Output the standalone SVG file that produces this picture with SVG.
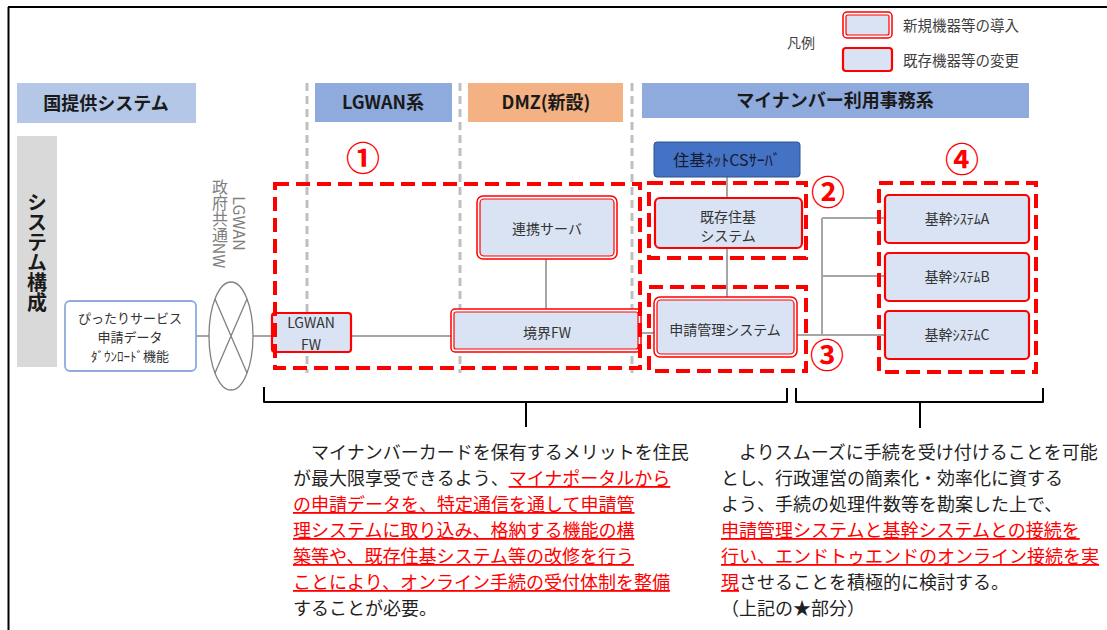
<svg xmlns="http://www.w3.org/2000/svg" width="1107" height="630" viewBox="0 0 1107 630">
<defs><style>
text{font-family:"Noto Sans CJK JP","Noto Sans",sans-serif;}
.hdr{font-size:18px;font-weight:700;fill:#1a1a1a;text-anchor:middle}
.nt{font-size:14px;fill:#333;text-anchor:middle}
.ln{stroke:#a6a6a6;stroke-width:2;fill:none}
.gd{stroke:#bfbfbf;stroke-width:3;stroke-dasharray:8 5;fill:none}
.rd{stroke:#ff0000;stroke-width:4;stroke-dasharray:14 7;fill:none}
.single{fill:#dae3f3;stroke:#ff0000;stroke-width:2.2}
.dbo{fill:#fff;stroke:#ff0000;stroke-width:1.5}
.dbi{fill:#dae3f3;stroke:#ff0000;stroke-width:1.2}
.num{font-size:34px;font-weight:700;fill:#ff0000;text-anchor:middle}
.body{font-size:18px;fill:#1f1f1f}
.red{fill:#ff0000;text-decoration:underline}
.br{stroke:#000;stroke-width:2;fill:none;stroke-linejoin:round}
.vt{writing-mode:vertical-rl}
</style></defs>
<rect width="1107" height="630" fill="#fff"/>
<path d="M8,7 H1107 M8.5,7 V630" stroke="#000" stroke-width="2" fill="none"/>

<g id="legend">
<text x="787" y="48" font-size="14" fill="#404040">凡例</text>
<rect class="dbo" x="843" y="12" width="49" height="26" rx="4"/>
<rect class="dbi" x="846" y="15" width="43" height="20" rx="2"/>
<text x="903" y="30.5" font-size="14.5" fill="#404040">新規機器等の導入</text>
<rect class="single" x="843" y="48" width="49" height="23" rx="3"/>
<text x="903" y="65.5" font-size="14.5" fill="#404040">既存機器等の変更</text>
</g>

<g id="zone-dividers">
<path class="gd" d="M307,83 V373 M460,83 V373 M632,83 V373"/>
</g>

<g id="header-kuni"><rect x="17" y="83" width="179" height="40" fill="#b4c7e7"/><text class="hdr" x="106" y="110">国提供システム</text></g>
<g id="header-lgwan"><rect x="315" y="83" width="137" height="39" fill="#8faadc"/><text class="hdr" x="383" y="109">LGWAN系</text></g>
<g id="header-dmz"><rect x="468" y="83" width="155" height="39" fill="#f4b183"/><text class="hdr" x="546" y="109">DMZ(新設)</text></g>
<g id="header-mynumber"><rect x="642" y="83" width="387" height="35" fill="#8faadc"/><text class="hdr" x="835" y="107">マイナンバー利用事務系</text></g>
<g id="header-system"><rect x="17" y="136" width="40" height="231" fill="#d9d9d9"/><text class="vt" x="37" y="252" font-size="20" font-weight="700" fill="#1a1a1a" text-anchor="middle">システム構成</text></g>

<g id="connectors">
<path class="ln" d="M196,336 H209 M253,336 H451 M641,333 H654 M797,335 H885 M822,218 V335 M822,218 H885 M822,276 H885 M546,259 V309 M727,177 V198 M727,248 V297"/>
</g>

<g id="pittari"><rect x="65" y="301" width="131" height="70" rx="5" fill="#fff" stroke="#8faadc" stroke-width="1.8"/>
<text x="130" y="323" font-size="13" fill="#333" text-anchor="middle">ぴったりサービス</text>
<text x="130" y="342" font-size="13" fill="#333" text-anchor="middle">申請データ</text>
<text x="130" y="361" font-size="13" fill="#333" text-anchor="middle">ﾀﾞｳﾝﾛｰﾄﾞ機能</text></g>

<g id="lgwan-nw">
<ellipse cx="231" cy="336" rx="22" ry="54" fill="#fff" stroke="#808080" stroke-width="1.3"/>
<path d="M215,299 L247,373 M247,299 L215,373" stroke="#808080" stroke-width="1.3"/>
<text class="vt" x="240" y="223.5" font-size="16" fill="#7f7f7f" text-anchor="middle">LGWAN</text>
<text class="vt" x="220" y="223.5" font-size="16" fill="#7f7f7f" text-anchor="middle">政府共通NW</text>
</g>

<g id="lgwan-fw"><rect class="single" x="272" y="313" width="79" height="39" rx="3"/>
<text class="nt" x="311" y="328">LGWAN</text><text class="nt" x="311" y="350">FW</text></g>

<g id="renkei"><rect class="dbo" x="477" y="196" width="140" height="63" rx="6"/><rect class="dbi" x="480" y="199" width="134" height="57" rx="4"/>
<text class="nt" x="547" y="234">連携サーバ</text></g>

<g id="kyokai-fw"><rect class="dbo" x="451" y="309" width="190" height="43" rx="4"/><rect class="dbi" x="454" y="312" width="184" height="37" rx="2"/>
<text class="nt" x="547" y="338">境界FW</text></g>

<g id="cs-server"><rect x="654" y="142" width="146" height="35" rx="3" fill="#4472c4" stroke="#2f528f" stroke-width="1"/>
<text x="727" y="165.5" font-size="16" fill="#141a2e" text-anchor="middle">住基ﾈｯﾄCSｻｰﾊﾞ</text></g>

<g id="kison-juki"><rect class="single" x="655" y="198" width="147" height="50" rx="5"/>
<text class="nt" x="728" y="222">既存住基</text><text class="nt" x="728" y="241">システム</text></g>

<g id="shinsei"><rect class="dbo" x="654" y="297" width="143" height="60" rx="6"/><rect class="dbi" x="657" y="300" width="137" height="54" rx="4"/>
<text class="nt" x="725" y="335">申請管理システム</text></g>

<g id="kikan-a"><rect class="single" x="885" y="195" width="144" height="48" rx="4"/><text class="nt" x="957" y="224">基幹ｼｽﾃﾑA</text></g>
<g id="kikan-b"><rect class="single" x="885" y="253" width="144" height="48" rx="4"/><text class="nt" x="957" y="282">基幹ｼｽﾃﾑB</text></g>
<g id="kikan-c"><rect class="single" x="885" y="311" width="144" height="48" rx="4"/><text class="nt" x="957" y="340">基幹ｼｽﾃﾑC</text></g>

<g id="scope-boxes">
<rect class="rd" x="275" y="184" width="365" height="184"/>
<rect class="rd" x="649" y="183" width="157" height="75"/>
<rect class="rd" x="649" y="287" width="157" height="84"/>
<rect class="rd" x="879" y="183" width="157" height="189"/>
<text class="num" x="363" y="171">①</text>
<text class="num" x="828" y="205">②</text>
<text class="num" x="827" y="368">③</text>
<text class="num" x="962" y="172">④</text>
</g>

<g id="brackets">
<path class="br" d="M264,387 V402 H787 V388 M526,402 V427"/>
<path class="br" d="M796,388 V402 H1043 V388 M920,402 V428"/>
</g>

<g id="text-left">
<text class="body" x="293" y="459">　マイナンバーカードを保有するメリットを住民</text>
<text class="body" x="293" y="485">が最大限享受できるよう、<tspan class="red">マイナポータルから</tspan></text>
<text class="body red" x="293" y="511">の申請データを、特定通信を通して申請管</text>
<text class="body red" x="293" y="537">理システムに取り込み、格納する機能の構</text>
<text class="body red" x="293" y="563">築等や、既存住基システム等の改修を行う</text>
<text class="body red" x="293" y="589">ことにより、オンライン手続の受付体制を整備</text>
<text class="body" x="293" y="615">することが必要。</text>
</g>

<g id="text-right">
<text class="body" x="721" y="459">　よりスムーズに手続を受け付けることを可能</text>
<text class="body" x="721" y="485">とし、行政運営の簡素化・効率化に資する</text>
<text class="body" x="721" y="511">よう、手続の処理件数等を勘案した上で、</text>
<text class="body red" x="721" y="537">申請管理システムと基幹システムとの接続を</text>
<text class="body red" x="721" y="563">行い、エンドトゥエンドのオンライン接続を実</text>
<text class="body" x="721" y="589"><tspan class="red">現</tspan>させることを積極的に検討する。</text>
<text class="body" x="721" y="615">（上記の★部分）</text>
</g>
</svg>
